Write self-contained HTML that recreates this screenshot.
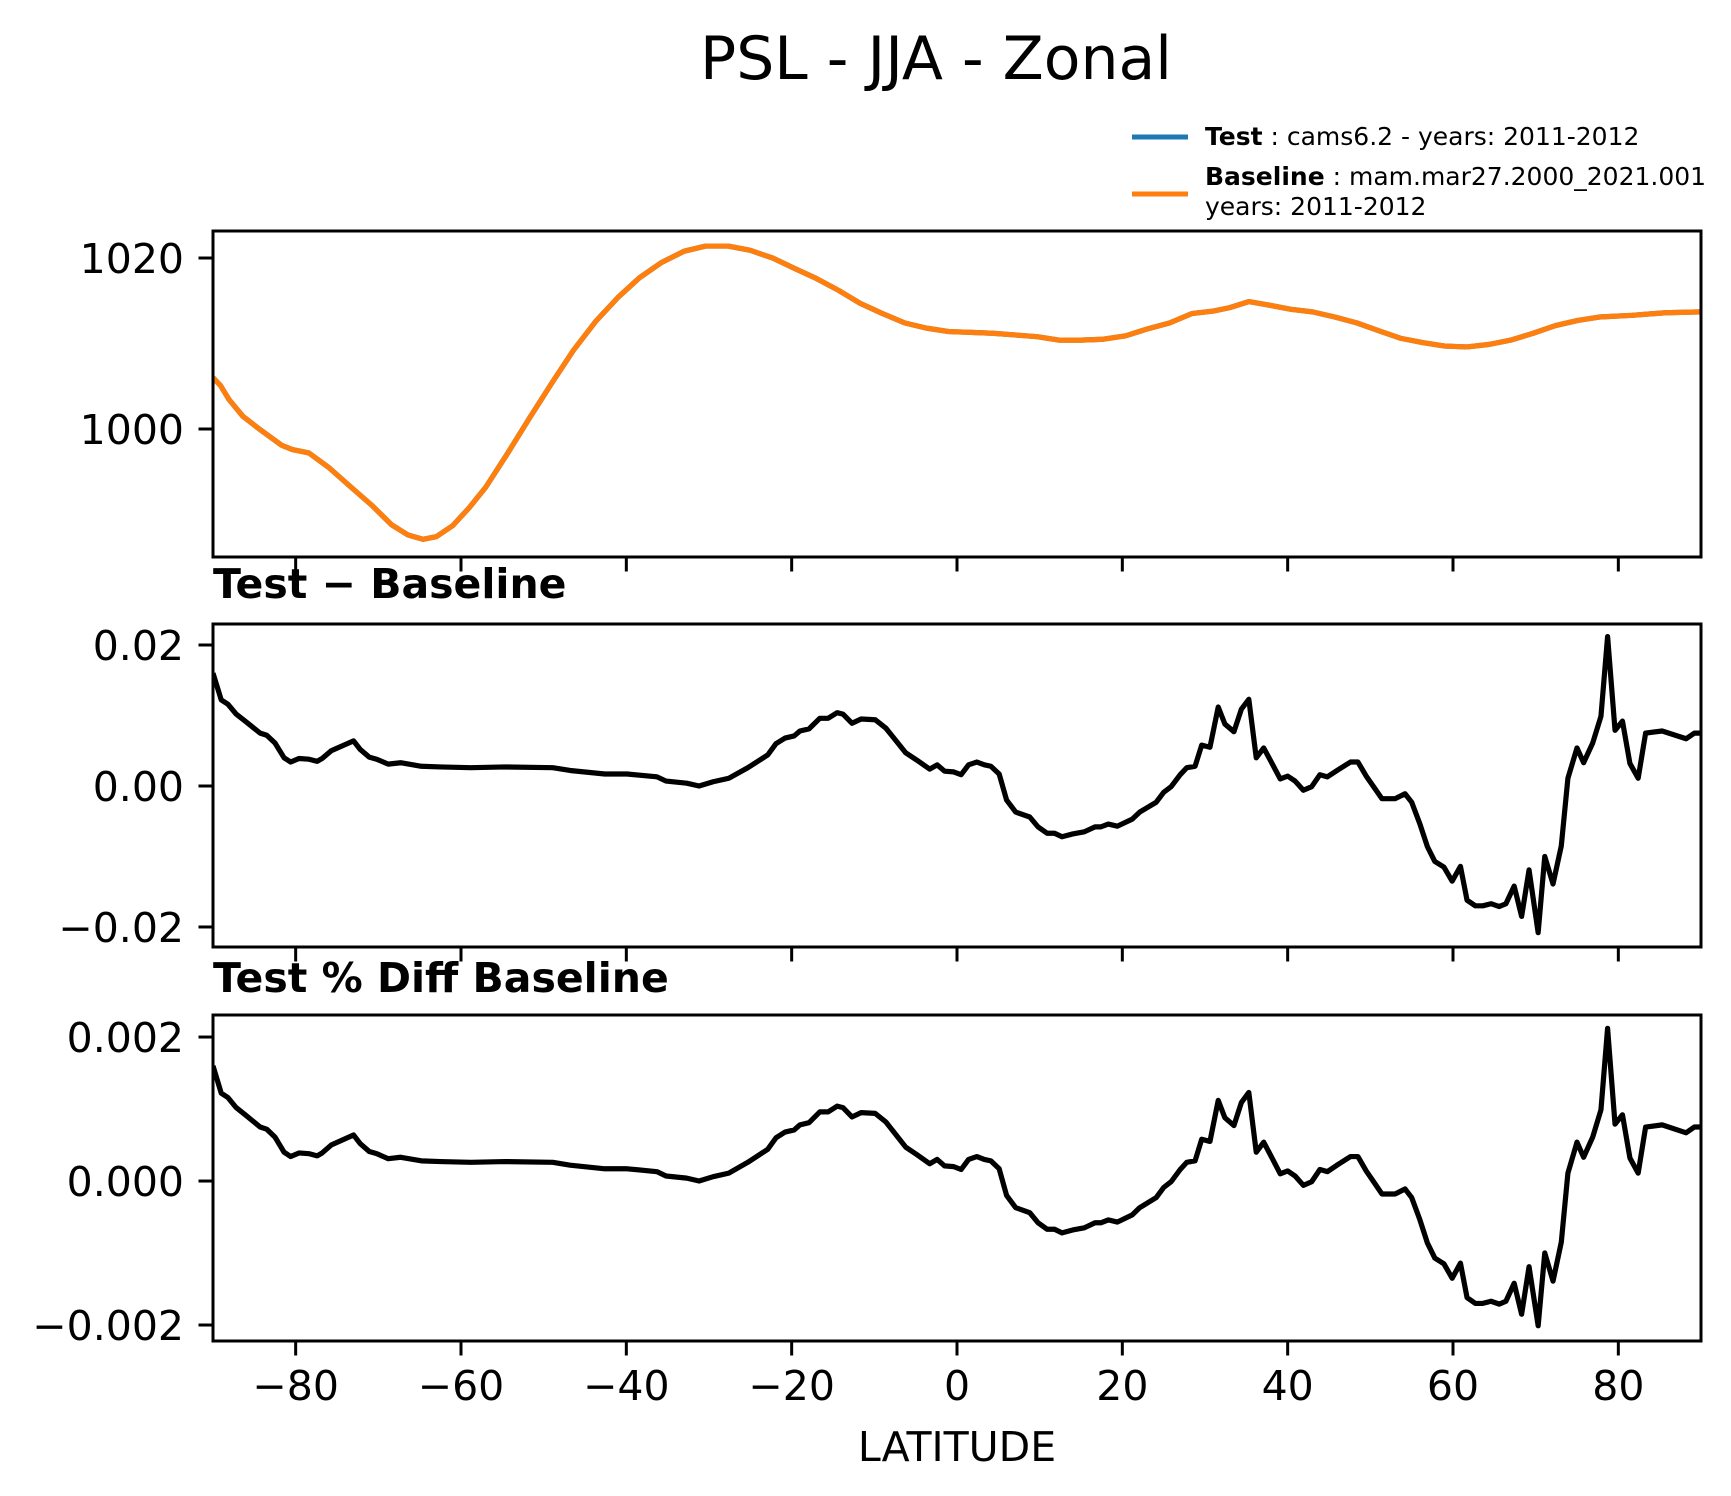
<!DOCTYPE html>
<html>
<head>
<meta charset="utf-8">
<style>
  html, body { margin: 0; padding: 0; background: #ffffff; }
  svg { display: block; font-family: "DejaVu Sans", "Liberation Sans", sans-serif; }
</style>
</head>
<body>
<svg id="chart" width="1731" height="1496" viewBox="0 0 1731 1496" xmlns="http://www.w3.org/2000/svg">
  <rect x="0" y="0" width="1731" height="1496" fill="#ffffff"/>
  <text x="936" y="79" font-size="60" text-anchor="middle" fill="#000">PSL - JJA - Zonal</text>

  <g>
    <line x1="1132" y1="137" x2="1188" y2="137" stroke="#1f77b4" stroke-width="5"/>
    <text x="1205" y="145" font-size="25" fill="#000"><tspan font-weight="bold">Test</tspan> : cams6.2 - years: 2011-2012</text>
    <line x1="1132" y1="194" x2="1188" y2="194" stroke="#ff7f0e" stroke-width="5"/>
    <text x="1205" y="185" font-size="25" fill="#000"><tspan font-weight="bold">Baseline</tspan> : mam.mar27.2000_2021.001</text>
    <text x="1205" y="215" font-size="25" fill="#000">years: 2011-2012</text>
  </g>

  <text x="213" y="598" font-size="41" font-weight="bold" fill="#000">Test − Baseline</text>
  <text x="213" y="992" font-size="41" font-weight="bold" fill="#000">Test % Diff Baseline</text>
  <text x="957" y="1461" font-size="41" text-anchor="middle" fill="#000">LATITUDE</text>

  <g id="p1"></g>
  <g id="p2"></g>
  <g id="p3"></g>
</svg>
<script>
// ---- data ----
const pslLat = [-90,-89.1,-88.1,-86.4,-84.4,-81.7,-80.4,-78.4,-76,-73.3,-70.7,-68.4,-66.4,-64.6,-63,-61,-59,-57,-54.4,-51.7,-49,-46.4,-43.7,-41,-38.4,-35.7,-33,-30.4,-27.7,-25,-22.3,-19.7,-17,-14.3,-11.7,-9,-6.3,-3.7,-1,1.7,4.3,7,9.7,12.3,15,17.7,20.4,23,25.7,28.4,31,33,35.3,37.7,40.4,43,45.7,48.4,51,53.7,56.4,59,61.7,64.4,67,69.7,72.4,75.1,77.7,81.7,85.7,90];
const basePsl = [1006.0,1005.1,1003.5,1001.5,1000,998.1,997.6,997.2,995.5,993.2,991,988.8,987.6,987.1,987.4,988.7,990.8,993.2,997.1,1001.3,1005.4,1009.2,1012.6,1015.4,1017.7,1019.5,1020.8,1021.4,1021.4,1020.9,1020,1018.8,1017.6,1016.2,1014.7,1013.5,1012.4,1011.8,1011.4,1011.3,1011.2,1011.0,1010.8,1010.4,1010.4,1010.5,1010.9,1011.7,1012.4,1013.5,1013.8,1014.2,1014.9,1014.5,1014,1013.7,1013.1,1012.4,1011.5,1010.6,1010.1,1009.7,1009.6,1009.9,1010.4,1011.2,1012.1,1012.7,1013.1,1013.3,1013.6,1013.7];
const testPsl = [1006.0,1005.1,1003.5,1001.5,1000,998.1,997.6,997.2,995.5,993.2,991,988.8,987.6,987.1,987.4,988.7,990.8,993.2,997.1,1001.3,1005.4,1009.2,1012.6,1015.4,1017.7,1019.5,1020.8,1021.4,1021.4,1020.9,1020,1018.8,1017.6,1016.2,1014.7,1013.5,1012.4,1011.8,1011.4,1011.3,1011.2,1011.0,1010.8,1010.4,1010.4,1010.5,1010.9,1011.7,1012.4,1013.5,1013.8,1014.2,1014.9,1014.5,1014,1013.7,1013.1,1012.4,1011.5,1010.6,1010.1,1009.7,1009.6,1009.9,1010.4,1011.2,1012.1,1012.7,1013.1,1013.3,1013.6,1013.7];

const diffLat = [-90,-89,-88.2,-87.2,-86.1,-84.3,-83.5,-82.5,-81.4,-80.6,-79.6,-78.4,-77.4,-76.8,-75.7,-73,-72.2,-71.1,-70.2,-68.8,-67.3,-64.8,-62.5,-58.8,-54.7,-48.9,-46.8,-42.6,-39.9,-36.3,-35.2,-32.7,-31.2,-29.5,-27.6,-25.3,-22.9,-21.9,-20.8,-19.7,-19,-17.9,-16.6,-15.6,-14.5,-13.8,-12.7,-11.6,-9.9,-8.6,-6.2,-4.9,-3.3,-2.4,-1.5,-0.4,0.5,1.4,2.4,3.3,4.1,5.1,6.0,7.1,8.8,9.8,10.9,11.8,12.7,14.0,15.4,16.7,17.4,18.3,19.4,21.2,22.1,24.1,25.0,25.9,27.0,27.8,28.8,29.6,30.6,31.6,32.4,33.5,34.4,35.3,36.2,37.1,38.2,39.1,40.0,40.9,41.9,42.9,43.9,44.8,46.1,47.6,48.5,49.5,50.4,51.4,53.0,54.2,55.0,56.0,56.9,57.8,58.9,59.9,60.9,61.7,62.7,63.6,64.6,65.6,66.4,67.4,68.3,69.2,70.3,71.1,72.1,73.1,73.9,75.0,75.8,76.9,77.9,78.7,79.6,80.5,81.4,82.4,83.3,85.3,88.2,89.2,90];
const diffVals = [0.0160,0.0122,0.0116,0.0102,0.0092,0.0075,0.0072,0.0061,0.0040,0.0034,0.0039,0.0038,0.0035,0.0039,0.0050,0.0064,0.0052,0.0041,0.0038,0.0031,0.0033,0.0028,0.0027,0.0026,0.0027,0.0026,0.0022,0.0017,0.0017,0.0013,0.0007,0.0004,0.0000,0.0006,0.0011,0.0026,0.0044,0.0060,0.0068,0.0071,0.0078,0.0081,0.0096,0.0096,0.0104,0.0102,0.0089,0.0095,0.0094,0.0082,0.0047,0.0037,0.0024,0.0030,0.0021,0.0020,0.0016,0.0030,0.0034,0.0030,0.0028,0.0017,-0.0020,-0.0037,-0.0044,-0.0058,-0.0067,-0.0067,-0.0072,-0.0068,-0.0065,-0.0058,-0.0058,-0.0054,-0.0057,-0.0047,-0.0037,-0.0023,-0.0009,-0.0001,0.0016,0.0026,0.0028,0.0058,0.0055,0.0112,0.0088,0.0077,0.0109,0.0123,0.0040,0.0054,0.0030,0.0010,0.0014,0.0007,-0.0006,-0.0001,0.0016,0.0013,0.0023,0.0034,0.0034,0.0014,-0.0001,-0.0018,-0.0018,-0.0011,-0.0023,-0.0054,-0.0086,-0.0107,-0.0115,-0.0135,-0.0114,-0.0162,-0.0170,-0.0170,-0.0167,-0.0171,-0.0167,-0.0142,-0.0185,-0.0119,-0.0208,-0.0100,-0.0139,-0.0085,0.0011,0.0054,0.0033,0.0061,0.0099,0.0212,0.0079,0.0092,0.0032,0.0011,0.0075,0.0078,0.0067,0.0075,0.0075];
const pctVals = [0.00160,0.00122,0.00116,0.00102,0.00092,0.00075,0.00072,0.00061,0.00040,0.00034,0.00039,0.00038,0.00035,0.00039,0.00050,0.00064,0.00052,0.00041,0.00038,0.00031,0.00033,0.00028,0.00027,0.00026,0.00027,0.00026,0.00022,0.00017,0.00017,0.00013,0.00007,0.00004,0.00000,0.00006,0.00011,0.00026,0.00044,0.00060,0.00068,0.00071,0.00078,0.00081,0.00096,0.00096,0.00104,0.00102,0.00089,0.00095,0.00094,0.00082,0.00047,0.00037,0.00024,0.00030,0.00021,0.00020,0.00016,0.00030,0.00034,0.00030,0.00028,0.00017,-0.00020,-0.00037,-0.00044,-0.00058,-0.00067,-0.00067,-0.00072,-0.00068,-0.00065,-0.00058,-0.00058,-0.00054,-0.00057,-0.00047,-0.00037,-0.00023,-0.00009,-0.00001,0.00016,0.00026,0.00028,0.00058,0.00055,0.00112,0.00088,0.00077,0.00109,0.00123,0.00040,0.00054,0.00030,0.00010,0.00014,0.00007,-0.00006,-0.00001,0.00016,0.00013,0.00023,0.00034,0.00034,0.00014,-0.00001,-0.00018,-0.00018,-0.00011,-0.00023,-0.00054,-0.00086,-0.00107,-0.00115,-0.00135,-0.00114,-0.00162,-0.00170,-0.00170,-0.00167,-0.00171,-0.00167,-0.00142,-0.00185,-0.00119,-0.00201,-0.00100,-0.00139,-0.00085,0.00011,0.00054,0.00033,0.00061,0.00099,0.00212,0.00079,0.00092,0.00032,0.00011,0.00075,0.00078,0.00067,0.00075,0.00075];

const xTicks = [-80,-60,-40,-20,0,20,40,60,80];
const xTickLabels = ["−80","−60","−40","−20","0","20","40","60","80"];
const pslTicks = [1000,1020];
const pslTickLabels = ["1000","1020"];
const diffTicks = [-0.02,0,0.02];
const diffTickLabels = ["−0.02","0.00","0.02"];
const pctTicks = [-0.002,0,0.002];
const pctTickLabels = ["−0.002","0.000","0.002"];

// ---- layout ----
const NS = "http://www.w3.org/2000/svg";
const L = 213, R = 1701;
function xScale(lat) { return L + (lat + 90) / 180 * (R - L); }
function makeY(top, bottom, vTop, vBot) {
  return function (v) { return top + (vTop - v) / (vTop - vBot) * (bottom - top); };
}
const panels = [
  { id: "p1", top: 231, bottom: 557, y: makeY(231, 557, 1023.16, 985.03) },
  { id: "p2", top: 624, bottom: 947, y: makeY(624, 947, 0.02298, -0.02284) },
  { id: "p3", top: 1015, bottom: 1341, y: makeY(1015, 1341, 0.002306, -0.002222) }
];
function el(tag, attrs, parent) {
  const e = document.createElementNS(NS, tag);
  for (const k in attrs) e.setAttribute(k, attrs[k]);
  parent.appendChild(e);
  return e;
}
function linePath(xs, ys, yf) {
  return xs.map((x, i) => (i ? "L" : "M") + xScale(x).toFixed(2) + "," + yf(ys[i]).toFixed(2)).join(" ");
}
function drawPanel(p, ticks, labels, showXLabels, series) {
  const g = document.getElementById(p.id);
  const clipId = p.id + "-clip";
  const defs = el("defs", {}, g);
  const cp = el("clipPath", { id: clipId }, defs);
  el("rect", { x: L, y: p.top, width: R - L, height: p.bottom - p.top }, cp);
  series.forEach(s => {
    const path = el("path", { d: linePath(s.x, s.v, p.y), fill: "none", stroke: s.color, "stroke-width": 5.2, "stroke-linejoin": "round", "clip-path": "url(#" + clipId + ")" }, g);
    
    
  });
  const frame = el("rect", { x: L, y: p.top, width: R - L, height: p.bottom - p.top, fill: "none", stroke: "#000", "stroke-width": 3 }, g);
  
  
  ticks.forEach((t, i) => {
    const yy = p.y(t);
    const tk = el("line", { x1: L - 14.5, y1: yy, x2: L, y2: yy, stroke: "#000", "stroke-width": 3 }, g);
    
    
    const tx = el("text", { x: L - 29, y: yy + 15, "font-size": 41, "text-anchor": "end", fill: "#000" }, g);
    tx.textContent = labels[i];
    
    
  });
  xTicks.forEach((t, i) => {
    const xx = xScale(t);
    const tk = el("line", { x1: xx, y1: p.bottom, x2: xx, y2: p.bottom + 14.5, stroke: "#000", "stroke-width": 3 }, g);
    
    
    if (showXLabels) {
      const tx = el("text", { x: xx, y: 1400, "font-size": 41, "text-anchor": "middle", fill: "#000" }, g);
      tx.textContent = xTickLabels[i];
      
      
    }
  });
}
drawPanel(panels[0], pslTicks, pslTickLabels, false, [
  { x: pslLat, v: testPsl, color: "#1f77b4", name: "test-psl-line" },
  { x: pslLat, v: basePsl, color: "#ff7f0e", name: "baseline-psl-line" }
]);
drawPanel(panels[1], diffTicks, diffTickLabels, false, [
  { x: diffLat, v: diffVals, color: "#000000", name: "diff-line" }
]);
drawPanel(panels[2], pctTicks, pctTickLabels, true, [
  { x: diffLat, v: pctVals, color: "#000000", name: "pct-diff-line" }
]);
</script>
</body>
</html>
